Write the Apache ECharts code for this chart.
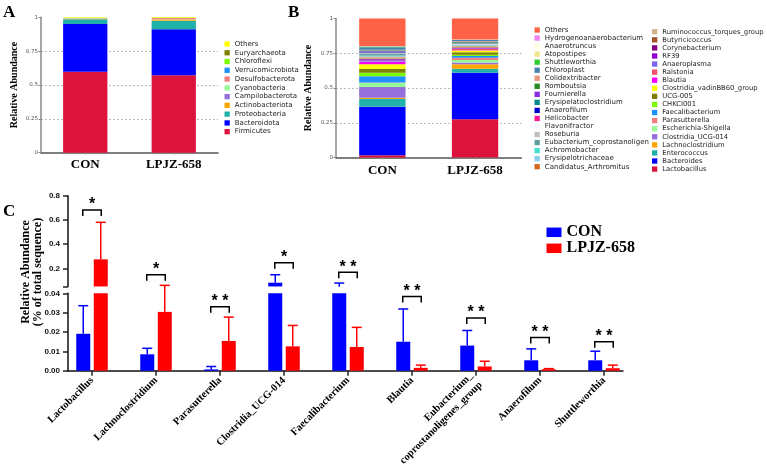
<!DOCTYPE html>
<html><head><meta charset="utf-8">
<script src="https://cdn.jsdelivr.net/npm/echarts@6/dist/echarts.min.js"></script>
<style>html,body{margin:0;padding:0;background:#fff}#c{width:767px;height:469px}</style>
</head><body><div id="c"></div>
<script>
// ---------- Panel A: phylum level (stack order bottom -> top) ----------
const phyla = ['Firmicutes','Bacteroidota','Proteobacteria','Actinobacteriota','Campilobacterota','Cyanobacteria','Desulfobacterota','Verrucomicrobiota','Chloroflexi','Euryarchaeota','Others'];
const phylaCON  = [0.598,0.352,0.036,0.002,0.001,0.004,0.001,0.001,0.001,0.000,0.004];
const phylaLPJZ = [0.572,0.339,0.064,0.008,0.001,0.002,0.008,0.001,0.001,0.001,0.003];
const phylaColors = ['#DC143C','#0000FF','#20B2AA','#FFA500','#9370DB','#98FB98','#F08080','#1E90FF','#7CFC00','#808000','#FFFF00'];
const groups = ['CON','LPJZ-658'];

// ---------- Panel B: genus level (stack order bottom -> top) ----------
const genera = ['Lactobacillus','Bacteroides','Enterococcus','Lachnoclostridium','Clostridia_UCG-014','Escherichia-Shigella','Parasutterella','Faecalibacterium','CHKCI001','UCG-005','Clostridia_vadinBB60_group','Blautia','Ralstonia','Anaeroplasma','RF39','Corynebacterium','Butyricicoccus','Ruminococcus_torques_group','Candidatus_Arthromitus','Erysipelotrichaceae','Achromobacter','Eubacterium_coprostanoligenes_group','Roseburia','Flavonifractor','Helicobacter','Anaerofilum','Erysipelatoclostridium','Fournierella','Romboutsia','Colidextribacter','Chloroplast','Shuttleworthia','Atopostipes','Anaerotruncus','Hydrogenoanaerobacterium','Others '];
const generaCON  = [0.017,0.349,0.055,0.009,0.077,0.031,0.001,0.045,0.026,0.029,0.031,0.017,0.004,0.008,0.006,0.004,0.004,0.008,0.004,0.006,0.003,0.013,0.004,0.002,0.002,0.005,0.004,0.004,0.003,0.004,0.018,0.005,0.002,0.001,0.002,0.197];
const generaLPJZ = [0.275,0.335,0.029,0.031,0.013,0.019,0.016,0.012,0.009,0.019,0.012,0.002,0.010,0.003,0.002,0.003,0.004,0.006,0.002,0.004,0.002,0.004,0.003,0.003,0.002,0.001,0.005,0.002,0.003,0.006,0.008,0.001,0.002,0.001,0.000,0.151];
const generaColors = ['#DC143C','#0000FF','#20B2AA','#FFA500','#9370DB','#98FB98','#F08080','#1E90FF','#7CFC00','#808000','#FFFF00','#FF00FF','#F0506E','#7B68EE','#9400D3','#800080','#A0522D','#D2B48C','#D2691E','#87CEEB','#40E0D0','#5F9EA0','#C0C0C0','#F0F8FF','#FF1493','#0000CD','#008B8B','#8A2BE2','#228B22','#E9967A','#4682B4','#32CD32','#F0E68C','#FFFFE0','#EE82EE','#FF6347'];

// ---------- Panel C: differential genera ----------
const cCats = ['Lactobacillus','Lachnoclostridium','Parasutterella','Clostridia_UCG-014','Faecalibacterium','Blautia','Eubacterium_\ncoprostanoligenes_group','Anaerofilum','Shuttleworthia'];
const conMean  = [0.0191,0.0085,0.0007,0.081,0.048,0.0150,0.0130,0.0054,0.0054];
const conSD    = [0.0145,0.0031,0.0015,0.066,0.030,0.0169,0.0078,0.0059,0.0047];
const lpjzMean = [0.274,0.0304,0.0154,0.0126,0.0123,0.0015,0.0022,0.0008,0.0013];
const lpjzSD   = [0.306,0.0137,0.0123,0.0108,0.0101,0.0014,0.0027,0.0003,0.0016];
const sigLabel = ['*','*','**','*','**','**','**','**','**'];
const sigY     = [0.682,0.147,0.0331,0.246,0.167,0.0383,0.0272,0.0172,0.0150];
const upperTicks = [0.2,0.4,0.6,0.8];
const lowerMax = 0.04, upperMin = 0.05, upperMax = 0.8;

const cColors = ['#0000FF','#FF0000'];
const serif = 'Liberation Serif';
const idx = cCats.map((_, i) => i);

const chart = echarts.init(document.getElementById('c'));

function abYAxis(gi, gap) {
  return {
    type: 'value', gridIndex: gi, min: 0, max: 1, interval: 0.25,
    name: 'Relative Abundance', nameLocation: 'middle', nameGap: gap,
    nameTextStyle: {fontFamily: serif, fontWeight: 'bold', fontSize: 10, color: '#000'},
    axisLine: {show: true, lineStyle: {color: '#888', width: 1.5}},
    axisTick: {show: true, length: 2.5, lineStyle: {color: '#888'}},
    axisLabel: {fontFamily: 'DejaVu Sans', fontSize: 5.5, color: '#555', margin: 3},
    splitLine: {show: true, showMinLine: false, showMaxLine: false, lineStyle: {type: [2, 2], color: '#aaa', width: 0.8}}
  };
}
function abXAxis(gi, margin) {
  return {
    type: 'category', gridIndex: gi, data: groups,
    axisLine: {lineStyle: {color: '#555', width: 1.5}},
    axisTick: {show: true, alignWithLabel: true, length: 2, lineStyle: {color: '#999'}},
    axisLabel: {fontFamily: serif, fontWeight: 'bold', fontSize: 13, color: '#000', margin: margin}
  };
}

const seriesA = phyla.map((n, i) => ({
  type: 'bar', name: n, stack: 'A', xAxisIndex: 0, yAxisIndex: 0, barWidth: '50%',
  data: [phylaCON[i], phylaLPJZ[i]], itemStyle: {color: phylaColors[i]}, emphasis: {disabled: true}
}));
const seriesB = genera.map((n, i) => ({
  type: 'bar', name: n, stack: 'B', xAxisIndex: 1, yAxisIndex: 1, barWidth: '50%',
  data: [generaCON[i], generaLPJZ[i]], itemStyle: {color: generaColors[i]}, emphasis: {disabled: true}
}));

const means = [conMean, lpjzMean], sds = [conSD, lpjzSD];
const barOff = 8.75;

function cBars(ax) {
  return [0, 1].map(g => ({
    type: 'bar', name: groups[g], xAxisIndex: ax, yAxisIndex: ax, barWidth: 14, barGap: '25%',
    clip: true, data: idx.map(i => [i, means[g][i]]), itemStyle: {color: cColors[g]},
    emphasis: {disabled: true}, z: 2
  }));
}
function errSeries(ax, upper) {
  const pts = [];
  [0, 1].forEach(g => idx.forEach(i => {
    const m = means[g][i];
    if ((m > lowerMax) === upper) pts.push([i, m, m + sds[g][i], g]);
  }));
  return {
    type: 'custom', name: 'err' + ax, xAxisIndex: ax, yAxisIndex: ax, clip: false, z: 3,
    data: pts,
    renderItem: (params, api) => {
      const g = api.value(3);
      const p0 = api.coord([api.value(0), api.value(1)]);
      const p1 = api.coord([api.value(0), api.value(2)]);
      const cx = p0[0] + (g === 0 ? -barOff : barOff);
      const col = cColors[g];
      return {type: 'group', children: [
        {type: 'line', shape: {x1: cx, y1: p0[1], x2: cx, y2: p1[1]}, style: {stroke: col, lineWidth: 1.5}},
        {type: 'line', shape: {x1: cx - 5, y1: p1[1], x2: cx + 5, y2: p1[1]}, style: {stroke: col, lineWidth: 1.5}}
      ]};
    }
  };
}
function sigSeries(ax, upper) {
  const list = idx.filter(i => (sigY[i] > lowerMax) === upper);
  return {
    type: 'custom', name: 'sig' + ax, xAxisIndex: ax, yAxisIndex: ax, clip: false, z: 4,
    data: list.map(i => [i, sigY[i]]),
    renderItem: (params, api) => {
      const k = list[params.dataIndex];
      const p = api.coord([api.value(0), api.value(1)]);
      const x1 = p[0] - barOff - 0.5, x2 = p[0] + barOff + 0.5, y = p[1];
      return {type: 'group', children: [
        {type: 'polyline', shape: {points: [[x1, y + 6], [x1, y], [x2, y], [x2, y + 6]]},
         style: {stroke: '#000', lineWidth: 1.5, fill: null}},
        {type: 'text', x: p[0], y: y - 5,
         style: {text: sigLabel[k].split('').join(' '), font: 'bold 16px Liberation Sans',
                 fill: '#000', align: 'center', verticalAlign: 'middle'}}
      ]};
    }
  };
}

const cXAxisBase = {type: 'value', min: -0.375, max: 8.297, splitLine: {show: false}};

const option = {
  animation: false,
  backgroundColor: '#fff',
  grid: [
    {left: 41, top: 17.3, width: 177, height: 135.4},
    {left: 336, top: 18.5, width: 185.4, height: 139},
    {left: 68, top: 195.7, width: 555, height: 90.75},
    {left: 68, top: 293.3, width: 555, height: 78}
  ],
  xAxis: [
    abXAxis(0, 5), abXAxis(1, 7),
    Object.assign({}, cXAxisBase, {gridIndex: 2, show: false}),
    Object.assign({}, cXAxisBase, {
      gridIndex: 3,
      axisLine: {show: true, onZero: false, lineStyle: {color: '#111', width: 1.5}},
      axisTick: {show: true, customValues: idx, length: 5, lineStyle: {color: '#222', width: 1.5}},
      axisLabel: {customValues: idx, formatter: v => cCats[Math.round(v)], rotate: 45, margin: 8,
                  fontFamily: serif, fontWeight: 'bold', fontSize: 10.5, lineHeight: 13, color: '#000'}
    })
  ],
  yAxis: [
    abYAxis(0, 22), abYAxis(1, 22.5),
    {type: 'value', gridIndex: 2, min: upperMin, max: upperMax,
     axisLine: {show: true, onZero: false, lineStyle: {color: '#111', width: 1.5}},
     axisTick: {show: true, customValues: [upperMin].concat(upperTicks), length: 5, lineStyle: {color: '#222', width: 1.5}},
     axisLabel: {customValues: upperTicks, formatter: v => v.toFixed(1), fontFamily: 'Liberation Sans', fontWeight: 'bold', fontSize: 8, color: '#111', margin: 8},
     splitLine: {show: false}},
    {type: 'value', gridIndex: 3, min: 0, max: lowerMax, interval: 0.01,
     axisLine: {show: true, onZero: false, lineStyle: {color: '#111', width: 1.5}},
     axisTick: {show: true, length: 5, lineStyle: {color: '#222', width: 1.5}},
     axisLabel: {formatter: v => v.toFixed(2), fontFamily: 'Liberation Sans', fontWeight: 'bold', fontSize: 8, color: '#111', margin: 8},
     splitLine: {show: false}}
  ],
  legend: [
    {data: phyla.slice().reverse(), left: 219.5, top: 34.6, orient: 'vertical', icon: 'rect',
     itemWidth: 5.3, itemHeight: 5.3, itemGap: 0, selectedMode: false,
     textStyle: {fontFamily: 'DejaVu Sans', fontSize: 7, lineHeight: 8.77, color: '#222'}},
    {data: genera.slice(18).reverse(), left: 529.5, top: 21, orient: 'vertical', icon: 'rect',
     itemWidth: 5.3, itemHeight: 5.3, itemGap: 0, selectedMode: false,
     textStyle: {fontFamily: 'DejaVu Sans', fontSize: 7, lineHeight: 8.04, color: '#222',
                 width: 106, overflow: 'truncate', ellipsis: ''}},
    {data: genera.slice(0, 18).reverse(), left: 647, top: 22.7, orient: 'vertical', icon: 'rect',
     itemWidth: 5.3, itemHeight: 5.3, itemGap: 0, selectedMode: false,
     textStyle: {fontFamily: 'DejaVu Sans', fontSize: 6.8, lineHeight: 8.08, color: '#222'}},
    {data: groups, left: 541.5, top: 219.3, orient: 'vertical', icon: 'rect',
     itemWidth: 15, itemHeight: 9.5, itemGap: 0, selectedMode: false,
     textStyle: {fontFamily: serif, fontWeight: 'bold', fontSize: 16, lineHeight: 12, color: '#000'}}
  ],
  graphic: [
    {type: 'text', x: 3, y: 4, style: {text: 'A', font: 'bold 17px Liberation Serif', fill: '#000'}},
    {type: 'text', x: 288, y: 4, style: {text: 'B', font: 'bold 17px Liberation Serif', fill: '#000'}},
    {type: 'text', x: 3, y: 203, style: {text: 'C', font: 'bold 17px Liberation Serif', fill: '#000'}},
    {type: 'text', x: 32, y: 272, rotation: Math.PI / 2,
     style: {text: 'Relative Abundance\n(% of total sequence)', font: 'bold 12px Liberation Serif',
             lineHeight: 12, fill: '#000', align: 'center', verticalAlign: 'middle'}}
  ],
  series: [].concat(seriesA, seriesB, cBars(3), cBars(2),
                    errSeries(3, false), errSeries(2, true), sigSeries(3, false), sigSeries(2, true))
};
chart.setOption(option);
</script></body></html>
